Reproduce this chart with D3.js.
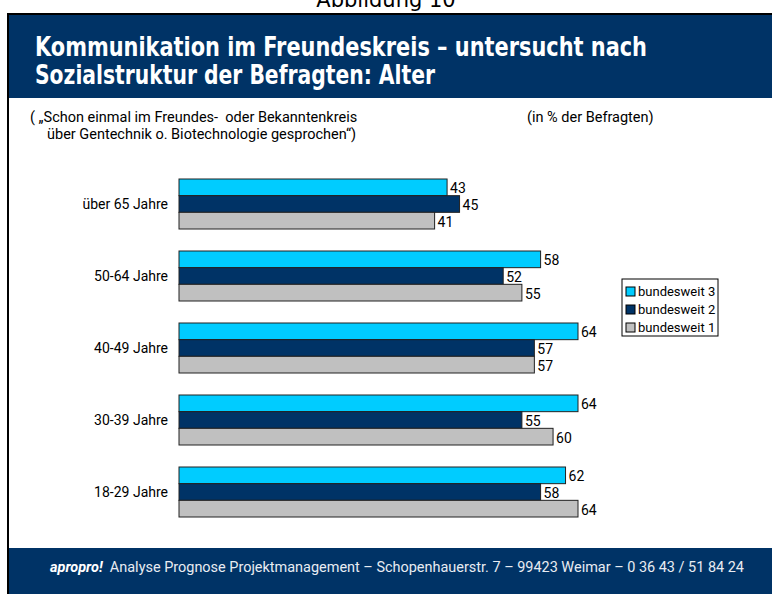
<!DOCTYPE html>
<html>
<head>
<meta charset="utf-8">
<script src="https://cdn.jsdelivr.net/npm/d3@7"></script>
<style>
  body { margin: 0; background: #fff; }
  svg { display: block; }
</style>
</head>
<body>
<svg id="canvas"></svg>
<script>
var w = 772;
var h = 594;
var navy = '#003366';

// data
var categories = ['über 65 Jahre', '50-64 Jahre', '40-49 Jahre', '30-39 Jahre', '18-29 Jahre'];
var seriesNames = ['bundesweit 3', 'bundesweit 2', 'bundesweit 1'];
var bundesweit3 = [43, 58, 64, 64, 62];
var bundesweit2 = [45, 52, 57, 55, 58];
var bundesweit1 = [41, 55, 57, 60, 64];
var seriesColours = ['#00ccff', '#003366', '#c0c0c0'];

var titleLines = ['Kommunikation im Freundeskreis \u2013 untersucht nach', 'Sozialstruktur der Befragten: Alter'];
var noteLines = ['( \u201eSchon einmal im Freundes-  oder Bekanntenkreis', '\u00fcber Gentechnik o. Biotechnologie gesprochen\u201c)'];

var seriesValues = [bundesweit3, bundesweit2, bundesweit1];
var tableData = categories.map(function(c, i) {
  return { cat: c, vals: seriesNames.map(function(s, j) { return { name: s, value: seriesValues[j][i], idx: j }; }) };
});

var narrow = '"DejaVu Sans Condensed", "Arial Narrow", sans-serif';
var plain = 'Roboto, "Liberation Sans", Arial, sans-serif';

var svg = d3.select('#canvas')
  .attr('width', w)
  .attr('height', h)
  .attr('viewBox', [0, 0, w, h]);

// caption above the frame (cut off at the top, as in the original)
svg.append('text')
  .attr('x', 386).attr('y', 7)
  .attr('text-anchor', 'middle')
  .style('font-family', '"DejaVu Sans", sans-serif')
  .style('font-size', '21px')
  .style('fill', '#000')
  .text('Abbildung 10');

// frame
svg.append('rect').attr('x', 7).attr('y', 13).attr('width', w - 7).attr('height', 2).style('fill', '#000');
svg.append('rect').attr('x', 7).attr('y', 13).attr('width', 2).attr('height', h - 13).style('fill', '#000');

// header band
svg.append('rect').attr('x', 9).attr('y', 15).attr('width', w - 9).attr('height', 83).style('fill', navy);
var titleLen = [612, 400];
titleLines.forEach(function(t, i) {
  svg.append('text')
    .attr('x', 35).attr('y', 56 + i * 28)
    .attr('textLength', titleLen[i])
    .attr('lengthAdjust', 'spacingAndGlyphs')
    .style('font-family', narrow)
    .style('font-weight', 'bold')
    .style('font-size', '27px')
    .style('fill', '#fff')
    .text(t);
});

// footer band
svg.append('rect').attr('x', 9).attr('y', 548).attr('width', w - 9).attr('height', h - 548).style('fill', navy);
var foot = svg.append('text')
  .attr('x', 50).attr('y', 572)
  .attr('textLength', 694)
  .attr('lengthAdjust', 'spacingAndGlyphs')
  .style('font-family', plain)
  .style('font-size', '14px')
  .style('white-space', 'pre')
  .style('fill', '#e8ecf2');
foot.append('tspan').style('font-weight', 'bold').style('font-style', 'italic').style('fill', '#fff').text('apropro!');
foot.append('tspan').text('  Analyse Prognose Projektmanagement \u2013 Schopenhauerstr. 7 \u2013 99423 Weimar \u2013 0 36 43 / 51 84 24');

// question note
noteLines.forEach(function(t, i) {
  svg.append('text')
    .attr('x', i === 0 ? 30 : 47).attr('y', 122 + i * 17)
    .style('font-family', plain)
    .style('font-size', '14.5px')
    .style('white-space', 'pre')
    .style('fill', '#000')
    .text(t);
});
svg.append('text')
  .attr('x', 527).attr('y', 122)
  .style('font-family', plain)
  .style('font-size', '14.5px')
  .style('fill', '#000')
  .text('(in % der Befragten)');

// scales
var x = d3.scaleLinear().domain([0, 64]).range([179, 578]);
var y0 = d3.scaleBand().domain(categories).range([179, 517]).paddingInner(22 / 72).paddingOuter(0);
var y1 = d3.scaleBand().domain(seriesNames).range([0, y0.bandwidth()]);
var colour = d3.scaleOrdinal().domain(seriesNames).range(seriesColours);

var groups = svg.selectAll('.grp')
  .data(tableData)
  .enter()
  .append('g')
  .attr('class', 'grp')
  .attr('transform', function(d) { return 'translate(0,' + y0(d.cat) + ')'; });

groups.append('text')
  .attr('x', 168)
  .attr('y', y0.bandwidth() / 2)
  .attr('dy', '0.35em')
  .attr('text-anchor', 'end')
  .style('font-family', plain)
  .style('font-size', '14px')
  .style('fill', '#000')
  .text(function(d) { return d.cat; });

groups.selectAll('rect')
  .data(function(d) { return d.vals; })
  .enter()
  .append('rect')
  .attr('x', x(0))
  .attr('y', function(d) { return y1(d.name); })
  .attr('width', function(d) { return x(d.value) - x(0); })
  .attr('height', y1.bandwidth())
  .style('fill', function(d) { return colour(d.name); })
  .style('stroke', '#222')
  .style('stroke-width', 1);

groups.selectAll('.val')
  .data(function(d) { return d.vals; })
  .enter()
  .append('text')
  .attr('class', 'val')
  .attr('x', function(d) { return x(d.value) + 3; })
  .attr('y', function(d) { return y1(d.name) + y1.bandwidth() / 2 + 1; })
  .attr('dy', '0.35em')
  .style('font-family', plain)
  .style('font-size', '14px')
  .style('fill', '#000')
  .text(function(d) { return d.value; });

// legend
var lg = svg.append('g').attr('transform', 'translate(622,279)');
lg.append('rect').attr('width', 96).attr('height', 57)
  .style('fill', '#fff').style('stroke', '#000').style('stroke-width', 1);
var items = lg.selectAll('.item')
  .data(seriesNames)
  .enter()
  .append('g')
  .attr('class', 'item')
  .attr('transform', function(d, i) { return 'translate(4,' + (12 + i * 18) + ')'; });
items.append('rect')
  .attr('x', 0).attr('y', -4)
  .attr('width', 9).attr('height', 9)
  .style('fill', function(d) { return colour(d); })
  .style('stroke', '#000').style('stroke-width', 1);
items.append('text')
  .attr('x', 12).attr('y', 0)
  .attr('dy', '0.35em')
  .style('font-family', plain)
  .style('font-size', '13px')
  .style('fill', '#000')
  .text(function(d) { return d; });
</script>
</body>
</html>
